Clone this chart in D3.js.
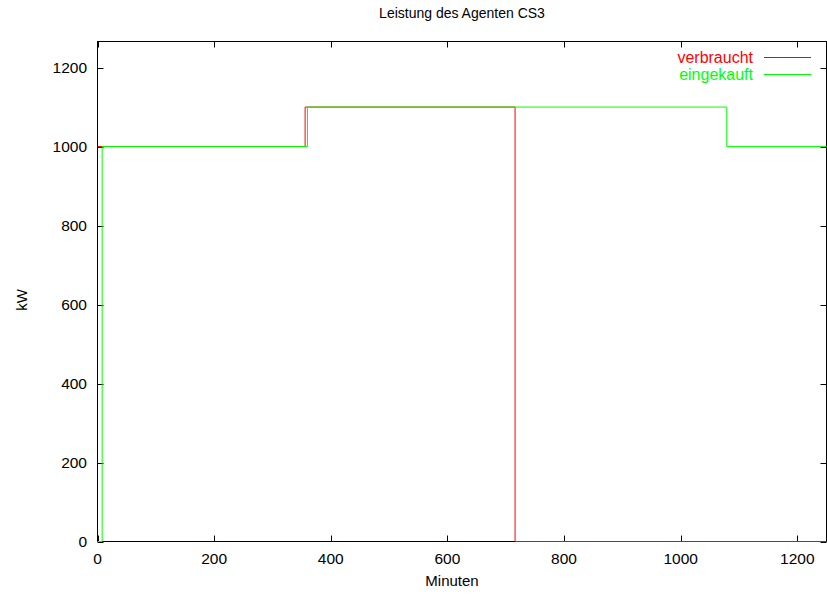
<!DOCTYPE html>
<html>
<head>
<meta charset="utf-8">
<script src="https://cdn.jsdelivr.net/npm/d3@7"></script>
<style>
  body { margin: 0; background: #fff; }
  text { font-family: "Liberation Sans", Arial, sans-serif; }
</style>
</head>
<body>
<script>
// step data, [minute, kW]
const verbraucht = [[0, 1000], [356, 1000], [356, 1100], [716, 1100], [716, 0], [1250, 0]];
const eingekauft = [[0, 0], [8, 0], [8, 1000], [360, 1000], [360, 1100], [1079, 1100], [1079, 1000], [1250, 1000]];
const xTicks = [0, 200, 400, 600, 800, 1000, 1200];
const yTicks = [0, 200, 400, 600, 800, 1000, 1200];

const width = 827, height = 594;
const plotLeft = 97.5, plotRight = 826.5, plotTop = 41.5, plotBottom = 541.5;

let svg = d3.select("body").append("svg")
            .attr("width", width)
            .attr("height", height);

let x = d3.scaleLinear().domain([0, 1250]).range([plotLeft, plotRight]);
let y = d3.scaleLinear().domain([0, 1266]).range([plotBottom, plotTop]);

// frame
svg.append("rect")
   .attr("x", plotLeft).attr("y", plotTop)
   .attr("width", plotRight - plotLeft).attr("height", plotBottom - plotTop)
   .attr("fill", "none").attr("stroke", "#000").attr("stroke-width", 1);

// inward ticks, mirrored
let tick = 6;
let g = svg.append("g").attr("stroke", "#000").attr("stroke-width", 1);
xTicks.forEach(t => {
    let px = Math.round(x(t)) + 0.5;
    g.append("line").attr("x1", px).attr("x2", px).attr("y1", plotBottom).attr("y2", plotBottom - tick);
    g.append("line").attr("x1", px).attr("x2", px).attr("y1", plotTop).attr("y2", plotTop + tick);
});
yTicks.forEach(t => {
    let py = Math.round(y(t)) + 0.5;
    g.append("line").attr("x1", plotLeft).attr("x2", plotLeft + tick).attr("y1", py).attr("y2", py);
    g.append("line").attr("x1", plotRight).attr("x2", plotRight - tick).attr("y1", py).attr("y2", py);
});

svg.append("g").selectAll("text")
   .data(xTicks).enter().append("text")
   .attr("x", d => x(d)).attr("y", 564)
   .attr("text-anchor", "middle").attr("font-size", 15.5)
   .text(d => d);

svg.append("g").selectAll("text")
   .data(yTicks).enter().append("text")
   .attr("x", 87).attr("y", d => y(d) + 5.5)
   .attr("text-anchor", "end").attr("font-size", 15.5)
   .text(d => d);

// lines
let line = d3.line().x(d => x(d[0])).y(d => y(d[1]));
svg.append("path").datum(verbraucht)
   .attr("fill", "none").attr("stroke", "#ff0000").attr("stroke-width", 1)
   .attr("d", line);
svg.append("path").datum(eingekauft)
   .attr("fill", "none").attr("stroke", "#00ff00").attr("stroke-width", 1)
   .attr("d", line);

// legend
let legend = [["verbraucht", "#ff0000", 57], ["eingekauft", "#00ff00", 74]];
legend.forEach(l => {
    svg.append("text").attr("x", 753).attr("y", l[2] + 5.5)
       .attr("text-anchor", "end").attr("font-size", 16).attr("fill", l[1])
       .text(l[0]);
    svg.append("line").attr("x1", 764).attr("x2", 811).attr("y1", l[2] + 0.5).attr("y2", l[2] + 0.5)
       .attr("stroke", l[1]).attr("stroke-width", 1);
});

// titles
svg.append("text").attr("x", 462).attr("y", 18)
   .attr("text-anchor", "middle").attr("font-size", 14)
   .text("Leistung des Agenten CS3");
svg.append("text").attr("x", 452).attr("y", 586)
   .attr("text-anchor", "middle").attr("font-size", 15)
   .text("Minuten");
svg.append("text")
   .attr("transform", "translate(27,300) rotate(-90)")
   .attr("text-anchor", "middle").attr("font-size", 15)
   .text("kW");
</script>
</body>
</html>
